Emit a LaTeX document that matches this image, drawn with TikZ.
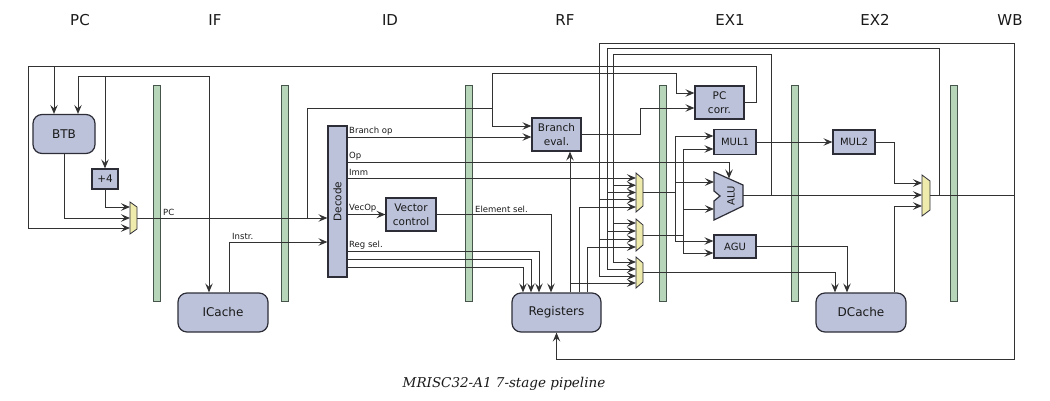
\documentclass[tikz,border=0pt]{standalone}
\usepackage{fontspec}
\setmainfont{DejaVu Sans}
\newfontfamily\titlefont{DejaVu Serif}
\usetikzlibrary{arrows.meta}
\definecolor{linec}{RGB}{50,50,50}
\definecolor{boxf}{RGB}{188,194,218}
\definecolor{boxb}{RGB}{45,45,55}
\definecolor{barf}{RGB}{183,214,185}
\definecolor{barb}{RGB}{70,85,75}
\definecolor{muxf}{RGB}{238,235,172}
\definecolor{txtc}{RGB}{25,25,25}
\begin{document}
\begin{tikzpicture}[x=1pt,y=-1pt,
  ln/.style={draw=linec, line width=0.95pt},
  arr/.style={ln, -{Stealth[length=9pt,width=7.5pt,inset=3.5pt]}},
  blk/.style={draw=boxb, fill=boxf, line width=1.2pt, inner sep=0pt, align=center, text=txtc, font=\fontsize{10.5}{14.5}\selectfont},
  sblk/.style={blk, font=\fontsize{10}{12}\selectfont},
  rblk/.style={blk, rounded corners=9pt, font=\fontsize{12}{14}\selectfont},
  pbar/.style={draw=barb, fill=barf, line width=1pt, minimum width=7pt, minimum height=216pt, inner sep=0pt},
  stage/.style={font=\fontsize{15}{18}\selectfont, text=txtc},
  lbl/.style={font=\fontsize{8.5}{10}\selectfont, inner sep=1pt, anchor=south west, text=txtc},
  muxs/.style={draw=boxb, fill=muxf, line width=0.8pt},
]
\useasboundingbox (0,0) rectangle (1050,400);

% stage labels
\node[stage] (sPC) at (80,20) {PC};
\node[stage] (sIF) at (215,20) {IF};
\node[stage] (sID) at (390,20) {ID};
\node[stage] (sRF) at (565,20) {RF};
\node[stage] (sEX1) at (730,20) {EX1};
\node[stage] (sEX2) at (875,20) {EX2};
\node[stage] (sWB) at (1010,20) {WB};

% pipeline registers
\node[pbar] (bar1) at (156.5,193) {};
\node[pbar] (bar2) at (285,193) {};
\node[pbar] (bar3) at (469,193) {};
\node[pbar] (bar4) at (662.5,193) {};
\node[pbar] (bar5) at (795,193) {};
\node[pbar] (bar6) at (953.5,193) {};

% blocks
\node[rblk, minimum width=62pt, minimum height=39pt] (btb) at (64,134) {BTB};
\node[blk, minimum width=26pt, minimum height=20pt] (plus4) at (105,179) {+4};
\node[rblk, minimum width=90pt, minimum height=39pt] (icache) at (223,312.5) {ICache};
\node[blk, minimum width=19pt, minimum height=151pt] (decode) at (337.5,201.5) {};
\node[rotate=90, font=\fontsize{10.5}{12}\selectfont, text=txtc] (decodet) at (decode) {Decode};
\node[blk, minimum width=50pt, minimum height=33pt] (vec) at (411,214.5) {Vector\\control};
\node[blk, minimum width=49pt, minimum height=33pt] (beval) at (556.5,134.5) {Branch\\eval.};
\node[rblk, minimum width=89pt, minimum height=39pt] (regs) at (556.5,312.5) {Registers};
\node[blk, minimum width=49pt, minimum height=33pt] (pccorr) at (719.5,102.5) {PC\\corr.};
\node[sblk, minimum width=42pt, minimum height=25pt] (mul1) at (735,142) {MUL1};
\node[sblk, minimum width=42pt, minimum height=23pt] (agu) at (735,246.5) {AGU};
\node[sblk, minimum width=42pt, minimum height=24pt] (mul2) at (854,142) {MUL2};
\node[rblk, minimum width=90pt, minimum height=39pt] (dcache) at (861,312.5) {DCache};

% ALU
\draw[draw=boxb, fill=boxf, line width=1.2pt] (714,172) -- (743,185) -- (743,206) -- (714,220) -- (714,201) -- (720,196) -- (714,191) -- cycle;
\node[rotate=90, font=\fontsize{10}{12}\selectfont, text=txtc] (alut) at (731,196) {ALU};
\coordinate (alui1) at (714,182);
\coordinate (alui2) at (714,209);
\coordinate (aluo) at (743,195);
\coordinate (alutop) at (729,178.5);

% muxes
\draw[muxs] (130,202) -- (137,207) -- (137,229) -- (130,234) -- cycle;
\coordinate (pci1) at (130,207);
\coordinate (pci2) at (130,218);
\coordinate (pci3) at (130,228);
\coordinate (pco) at (137,218);

\draw[muxs] (636,173) -- (643,179) -- (643,206) -- (636,212) -- cycle;
\foreach \yy [count=\i] in {178,185.25,192.5,199.75,207} {\coordinate (m1i\i) at (636,\yy);}
\coordinate (m1o) at (643,192.5);
\draw[muxs] (636,219) -- (643,225) -- (643,245) -- (636,251) -- cycle;
\foreach \yy [count=\i] in {223,231,239,247} {\coordinate (m2i\i) at (636,\yy);}
\coordinate (m2o) at (643,235);
\draw[muxs] (636,257) -- (643,263) -- (643,282) -- (636,288) -- cycle;
\foreach \yy [count=\i] in {262,269,276,283} {\coordinate (m3i\i) at (636,\yy);}
\coordinate (m3o) at (643,272.5);

\draw[muxs] (922,175) -- (930,181) -- (930,210) -- (922,216) -- cycle;
\coordinate (wbi1) at (922,183);
\coordinate (wbi2) at (922,195);
\coordinate (wbi3) at (922,206);
\coordinate (wbo) at (930,195);

% PC stage
\draw[arr] (pccorr.east) -| (756,66) -- (28,66) |- (pci3);
\draw[arr] (54,66) -- (btb.north -| 54,0);
\draw[arr] (209,218) |- (78,76) -- (btb.north -| 78,0);
\draw[arr] (105,76) -- (plus4.north);
\draw[arr] (209,218) -- (icache.north -| 209,0);
\draw[arr] (plus4.south) |- (pci1);
\draw[arr] (btb.south) |- (pci2);
\draw[arr] (pco) -- (decode.west |- pco);
\node[lbl] (lpc) at (162,217) {PC};

% IF stage
\draw[arr] (icache.north -| 229,0) |- (decode.west |- 0,242);
\node[lbl] (linstr) at (231,241) {Instr.};

% ID stage
\draw[arr] (307,218) |- (492,108) |- (beval.west |- 0,126);
\draw[arr] (492,108) |- (676,73) |- (pccorr.west |- 0,93);
\draw[arr] (decode.east |- 0,137) -- (beval.west |- 0,137);
\draw[arr] (decode.east |- 0,162) -| (alutop);
\draw[arr] (decode.east |- 0,178) -- (m1i1);
\draw[arr] (decode.east |- 0,214.5) -- (vec.west);
\draw[arr] (vec.east) -| (regs.north -| 551,0);
\draw[arr] (decode.east |- 0,251) -| (regs.north -| 539,0);
\draw[arr] (decode.east |- 0,259) -| (regs.north -| 531,0);
\draw[arr] (decode.east |- 0,267) -| (regs.north -| 523,0);
\node[lbl] (lbop) at (348,136) {Branch op};
\node[lbl] (lop) at (348,161) {Op};
\node[lbl] (limm) at (348,177) {Imm};
\node[lbl] (lvec) at (348,213) {VecOp};
\node[lbl] (lreg) at (348,250) {Reg sel.};
\node[lbl] (lelem) at (474,214) {Element sel.};

% RF stage
\draw[arr] (regs.north -| 570,0) -- (beval.south -| 570,0);
\draw[arr] (regs.north -| 570,0) |- (m3i4);
\draw[arr] (regs.north -| 579,0) |- (m1i5);
\draw[arr] (regs.north -| 587,0) |- (m2i4);
\draw[arr] (beval.east) -| (640,108) -- (pccorr.west |- 0,108);

% forwarding / writeback loops
\draw[ln] (wbo) -- (1014,195);
\draw[arr] (1014,195) |- (599,43) |- (m3i3);
\draw[arr] (m1i4 -| 599,0) -- (m1i4);
\draw[arr] (m2i3 -| 599,0) -- (m2i3);
\draw[arr] (1014,195) |- (regs.south |- 0,359) -- (regs.south);
\draw[arr] (939,195) |- (607,48) |- (m3i2);
\draw[arr] (m1i3 -| 607,0) -- (m1i3);
\draw[arr] (m2i2 -| 607,0) -- (m2i2);
\draw[arr] (771,195) |- (613,54) |- (m3i1);
\draw[arr] (m1i2 -| 613,0) -- (m1i2);
\draw[arr] (m2i1 -| 613,0) -- (m2i1);

% EX1 stage
\draw[ln] (m1o) -- (675,192.5);
\draw[arr] (675,192.5) |- (mul1.west |- 0,136);
\draw[arr] (675,192.5) |- (alui1);
\draw[arr] (675,192.5) |- (agu.west |- 0,241);
\draw[ln] (m2o) -- (683,235);
\draw[arr] (683,235) |- (mul1.west |- 0,149);
\draw[arr] (683,235) |- (alui2);
\draw[arr] (683,235) |- (agu.west |- 0,253);
\draw[arr] (m3o) -| (dcache.north -| 835,0);
\draw[arr] (agu.east) -| (dcache.north -| 847,0);
\draw[arr] (mul1.east) -- (mul2.west);
\draw[arr] (aluo) -- (wbi2);

% EX2 stage
\draw[arr] (mul2.east) -- (894,142) |- (wbi1);
\draw[arr] (dcache.north -| 894,0) |- (wbi3);

% title
\node[font=\titlefont\itshape\fontsize{13.5}{16}\selectfont, text=txtc] (title) at (504,384) {MRISC32-A1 7-stage pipeline};
\end{tikzpicture}
\end{document}
